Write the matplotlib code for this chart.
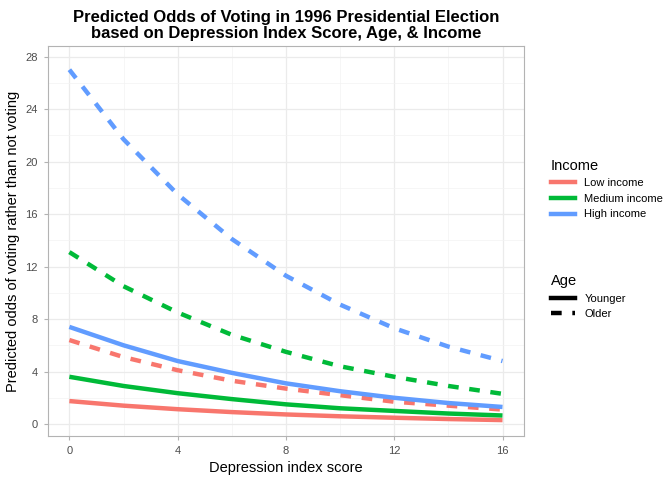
import numpy as np
import matplotlib.pyplot as plt
from matplotlib.lines import Line2D

plt.rcParams['font.family'] = ['Liberation Sans', 'DejaVu Sans']

depression = [0, 2, 4, 6, 8, 10, 12, 14, 16]
low_young = [1.75, 1.4, 1.13, 0.91, 0.73, 0.59, 0.48, 0.38, 0.3]
med_young = [3.6, 2.9, 2.35, 1.9, 1.5, 1.2, 1.0, 0.8, 0.65]
high_young = [7.4, 6.0, 4.8, 3.9, 3.1, 2.5, 2.0, 1.6, 1.3]
low_old = [6.4, 5.1, 4.1, 3.3, 2.7, 2.2, 1.7, 1.4, 1.1]
med_old = [13.1, 10.5, 8.5, 6.8, 5.5, 4.4, 3.6, 2.9, 2.3]
high_old = [27.0, 21.7, 17.5, 14.1, 11.3, 9.1, 7.3, 5.9, 4.8]

colors = {'Low income': '#F8766D', 'Medium income': '#00BA38', 'High income': '#619CFF'}

fig = plt.figure(figsize=(6.72, 4.8), dpi=100)
ax = fig.add_axes([0.071, 0.092, 0.709, 0.812])

lw = 3.2
dash = (2.4, 2.4)
for name, yv, ov in [('Low income', low_young, low_old),
                     ('Medium income', med_young, med_old),
                     ('High income', high_young, high_old)]:
    ax.plot(depression, yv, color=colors[name], lw=lw, solid_capstyle='butt')
    ax.plot(depression, ov, color=colors[name], lw=lw, dashes=dash)

ax.set_xlim(-0.8, 16.8)
ax.set_ylim(-0.9, 28.8)
ax.set_xticks([0, 4, 8, 12, 16])
ax.set_yticks(range(0, 29, 4))
ax.set_xticks(range(2, 16, 4), minor=True)
ax.set_yticks(range(2, 28, 4), minor=True)
ax.grid(True, which='major', color='#EBEBEB', lw=0.9)
ax.grid(True, which='minor', color='#F3F3F3', lw=0.5)
ax.set_axisbelow(True)
for s in ax.spines.values():
    s.set_color('#B3B3B3')
ax.tick_params(which='both', length=0, labelsize=8, colors='#4D4D4D', pad=4)
ax.tick_params(which='major', length=3, color='#B3B3B3')
ax.set_xlabel('Depression index score', fontsize=10.5)
ax.set_ylabel('Predicted odds of voting rather than not voting', fontsize=10.5)
ax.set_title('Predicted Odds of Voting in 1996 Presidential Election\nbased on Depression Index Score, Age, & Income',
             fontsize=12, fontweight='bold', pad=6, linespacing=1.1)

h1 = [Line2D([], [], color=c, lw=lw) for c in colors.values()]
fig.legend(h1, list(colors.keys()), title='Income', loc='upper left',
           bbox_to_anchor=(0.805, 0.69), frameon=False, fontsize=8,
           title_fontsize=10.5, handlelength=2.2, alignment='left')
h2 = [Line2D([], [], color='black', lw=lw),
      Line2D([], [], color='black', lw=lw, dashes=dash)]
fig.legend(h2, ['Younger', 'Older'], title='Age', loc='upper left',
           bbox_to_anchor=(0.805, 0.45), frameon=False, fontsize=8,
           title_fontsize=10.5, handlelength=2.2, alignment='left')

fig.savefig('out.png', dpi=100)
